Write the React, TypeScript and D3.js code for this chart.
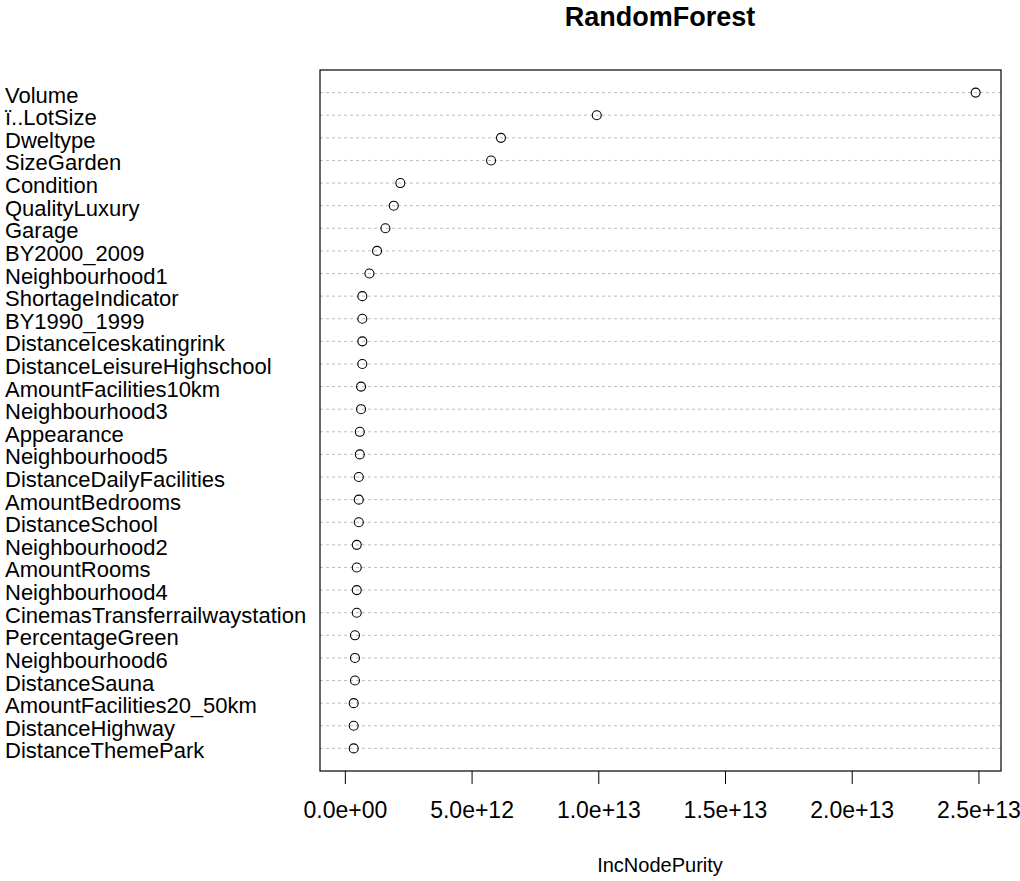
import React from "react";
import * as d3 from "d3";

const variables = [
  "Volume", "ï..LotSize", "Dweltype", "SizeGarden", "Condition", "QualityLuxury", "Garage",
  "BY2000_2009", "Neighbourhood1", "ShortageIndicator", "BY1990_1999", "DistanceIceskatingrink",
  "DistanceLeisureHighschool", "AmountFacilities10km", "Neighbourhood3", "Appearance",
  "Neighbourhood5", "DistanceDailyFacilities", "AmountBedrooms", "DistanceSchool",
  "Neighbourhood2", "AmountRooms", "Neighbourhood4", "CinemasTransferrailwaystation",
  "PercentageGreen", "Neighbourhood6", "DistanceSauna", "AmountFacilities20_50km",
  "DistanceHighway", "DistanceThemePark",
];

// IncNodePurity values (units of 1e12)
const purity = [
  24.87, 9.92, 6.14, 5.75, 2.17, 1.91, 1.58, 1.25, 0.95, 0.67, 0.67, 0.67, 0.67, 0.62, 0.62,
  0.57, 0.57, 0.53, 0.53, 0.53, 0.45, 0.45, 0.45, 0.45, 0.38, 0.38, 0.38, 0.33, 0.33, 0.33,
];

const tickValues = [0, 5, 10, 15, 20, 25];
const tickLabels = ["0.0e+00", "5.0e+12", "1.0e+13", "1.5e+13", "2.0e+13", "2.5e+13"];

const W = 1020;
const H = 881;
const box = { left: 320, right: 1001, top: 70, bottom: 771 };
const FONT = "Liberation Sans, Arial, sans-serif";

export default function App() {
  const x = d3.scaleLinear().domain([-1.0, 25.87]).range([box.left, box.right]);
  const y = d3
    .scalePoint<string>()
    .domain(variables)
    .range([box.top, box.bottom])
    .padding(1);

  return (
    <svg
      width={W}
      height={H}
      style={{ position: "absolute", left: 0, top: 0, background: "#fff" }}
      fontFamily={FONT}
    >
      <text x={660} y={26} textAnchor="middle" fontWeight="bold" fontSize={27} fill="#000">
        RandomForest
      </text>
      {variables.map((v, i) => (
        <g key={v}>
          <line
            x1={box.left}
            x2={box.right}
            y1={y(v)}
            y2={y(v)}
            stroke="#bdbdbd"
            strokeWidth={1}
            strokeDasharray="3,3"
          />
          <text x={5} y={(y(v) as number) + 10} fontSize={22} fill="#000">
            {v}
          </text>
          <circle cx={x(purity[i])} cy={y(v)} r={4.5} fill="none" stroke="#000" strokeWidth={1.1} />
        </g>
      ))}
      <rect
        x={box.left}
        y={box.top}
        width={box.right - box.left}
        height={box.bottom - box.top}
        fill="none"
        stroke="#000"
        strokeWidth={1.2}
      />
      {tickValues.map((t, i) => (
        <g key={t}>
          <line x1={x(t)} x2={x(t)} y1={box.bottom} y2={box.bottom + 13} stroke="#000" strokeWidth={1} />
          <text x={x(t)} y={818} textAnchor="middle" fontSize={23} fill="#000">
            {tickLabels[i]}
          </text>
        </g>
      ))}
      <text x={660} y={872} textAnchor="middle" fontSize={20} fill="#000">
        IncNodePurity
      </text>
    </svg>
  );
}
